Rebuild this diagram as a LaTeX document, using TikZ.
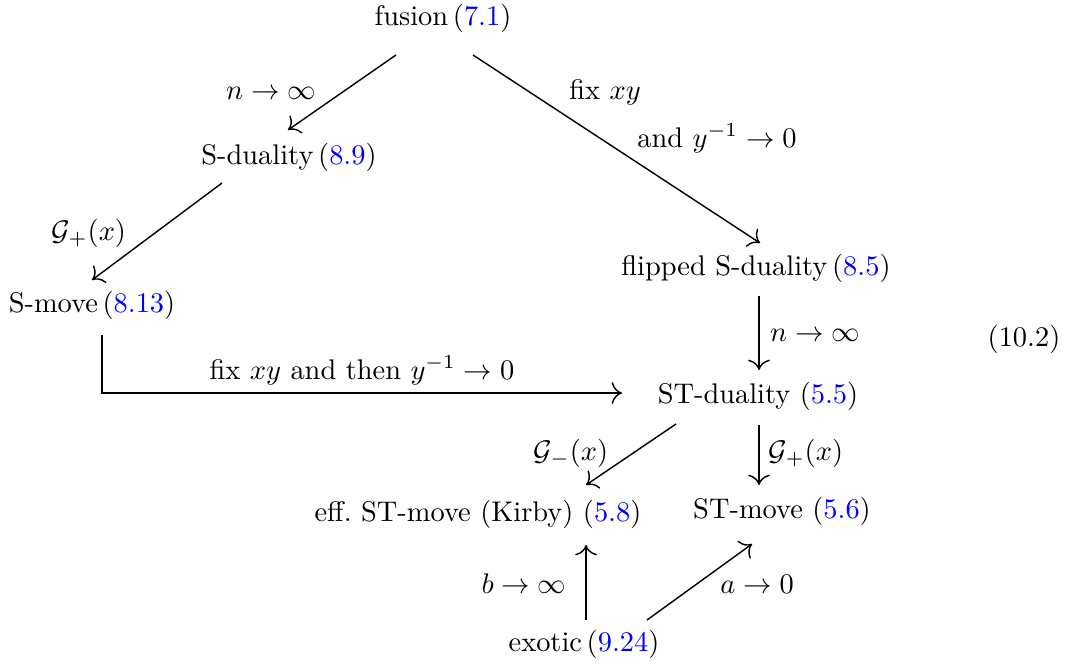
\documentclass[tikz,border=0pt]{standalone}
\usetikzlibrary{calc,arrows.meta}
\newcommand\rf[1]{\textcolor{blue}{#1}}
\begin{document}
\begin{tikzpicture}[x=0.352pt,y=-0.352pt,
  obj/.style={anchor=base,inner sep=0pt},
  lab/.style={anchor=base,inner sep=0pt},
  arr/.style={-{To[scale=1.35]},line width=0.5pt}]
\useasboundingbox (0,0) rectangle (1073,666);
% objects
\node[obj] (fusion) at (443,25) {fusion\,(\rf{7.1})};
\node[obj] (sdual)  at (289,164) {S-duality\,(\rf{8.9})};
\node[obj] (smove)  at (92,312) {S-move\,(\rf{8.13})};
\node[obj] (flip)   at (756,275) {flipped S-duality\,(\rf{8.5})};
\node[obj] (stdual) at (758,403) {ST-duality (\rf{5.5})};
\node[obj] (eff)    at (478,521) {eff.\ ST-move (Kirby) (\rf{5.8})};
\node[obj] (stmove) at (782,518) {ST-move (\rf{5.6})};
\node[obj] (exotic) at (584,651) {exotic\,(\rf{9.24})};
\node[obj] (eqno)   at (1024,346) {(10.2)};
% arrows
\draw[arr] ($(fusion.base)+(-47,30)$) -- ($(sdual.base)+(-1,-34)$);
\draw[arr] ($(fusion.base)+(30,30)$) -- ($(flip.base)+(4,-32)$);
\draw[arr] ($(sdual.base)+(-67,19)$) -- ($(smove.base)+(0,-32)$);
\draw[arr] ($(smove.base)+(10,23)$) |- ($(stdual.base)+(-136,-10)$);
\draw[arr] ($(flip.base)+(3,21)$) -- ($(stdual.base)+(1,-33)$);
\draw[arr] ($(stdual.base)+(-82,21)$) -- ($(eff.base)+(108,-36)$);
\draw[arr] ($(stdual.base)+(1,22)$) -- ($(stmove.base)+(-23,-33)$);
\draw[arr] ($(exotic.base)+(2,-31)$) -- ($(eff.base)+(108,24)$);
\draw[arr] ($(exotic.base)+(63,-31)$) -- ($(stmove.base)+(-30,26)$);
% labels
\node[lab] (l1)  at (271,99)  {$n\to\infty$};
\node[lab] (l2a) at (605,99)  {fix $xy$};
\node[lab] (l2b) at (717,147) {and $y^{-1}\to 0$};
\node[lab] (l3)  at (89,240)  {$\mathcal{G}_+(x)$};
\node[lab] (l4)  at (362,379) {fix $xy$ and then $y^{-1}\to 0$};
\node[lab] (l5)  at (815,341) {$n\to\infty$};
\node[lab] (l6)  at (571,460) {$\mathcal{G}_-(x)$};
\node[lab] (l7)  at (806,460) {$\mathcal{G}_+(x)$};
\node[lab] (l8)  at (524,593) {$b\to\infty$};
\node[lab] (l9)  at (757,593) {$a\to 0$};
\end{tikzpicture}
\end{document}
